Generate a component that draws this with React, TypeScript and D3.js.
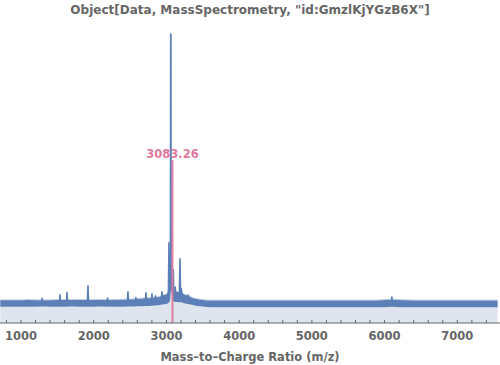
import React from "react";
import * as d3 from "d3";

const title = 'Object[Data, MassSpectrometry, "id:GmzlKjYGzB6X"]';
const xLabel = "Mass–to–Charge Ratio (m/z)";
const xTicks = [1000, 2000, 3000, 4000, 5000, 6000, 7000];
const markerMz = 3083.26;
const markerLabel = "3083.26";

// noise band envelope (m/z, low %, high %)
const bandMz = [715, 900, 1100, 1300, 1500, 1700, 1900, 2100, 2300, 2500, 2600, 2700, 2800, 2900, 2950, 3000, 3030, 3050, 3065, 3080, 3100, 3150, 3200, 3250, 3300, 3350, 3400, 3500, 3600, 4000, 4500, 5000, 5500, 5900, 6000, 6100, 6200, 6300, 6500, 7000, 7555];
const bandLow = [5.6, 5.6, 5.6, 5.7, 5.6, 5.7, 5.6, 5.7, 5.6, 5.7, 5.8, 5.9, 6.0, 6.2, 6.4, 6.6, 7.0, 8.0, 12.0, 9.0, 7.5, 7.3, 7.2, 6.8, 6.6, 6.3, 6.0, 5.7, 5.5, 5.5, 5.5, 5.5, 5.5, 5.5, 5.5, 5.6, 5.5, 5.5, 5.5, 5.5, 5.5];
const bandHigh = [7.9, 7.9, 8.0, 7.9, 8.0, 8.0, 8.0, 8.0, 8.0, 8.2, 8.3, 8.6, 8.7, 9.0, 9.6, 10.0, 11.0, 11.5, 12.5, 12.0, 11.0, 10.8, 10.6, 9.8, 9.4, 8.8, 8.4, 8.0, 7.8, 7.8, 7.8, 7.8, 7.8, 7.8, 8.0, 8.1, 8.0, 7.9, 7.8, 7.8, 7.8];

// peaks (m/z, height %)
const peakMz = [1290, 1536, 1633, 1921, 2190, 2471, 2580, 2719, 2801, 2850, 2939, 3035, 3060, 3094, 3120, 3186, 3205, 3300, 6100];
const peakH = [8.6, 9.8, 10.6, 12.9, 8.7, 10.8, 8.8, 10.5, 10.1, 9.4, 10.8, 27.9, 100.3, 18.5, 12.5, 22.3, 12.0, 9.7, 9.0];

const W = 500;
const H = 365;
const blue = "#5b7fb6";
const fillC = "#dfe5ef";
const pink = "#e0779d";
const gray = "#666666";
const font = "'DejaVu Sans', sans-serif";

export default function App() {
  const x = d3.scaleLinear().domain([1000, 7000]).range([21, 457.3]);
  const y = d3.scaleLinear().domain([0, 100]).range([323, 35]);
  const minor = d3.range(800, 7600, 200);

  const pts = bandMz.map((m, i) => ({ m, lo: bandLow[i], hi: bandHigh[i] }));
  const fillArea = d3
    .area<{ m: number; lo: number; hi: number }>()
    .x((d) => x(d.m))
    .y0(() => y(0))
    .y1((d) => y(d.lo))
    .curve(d3.curveMonotoneX);
  const bandArea = d3
    .area<{ m: number; lo: number; hi: number }>()
    .x((d) => x(d.m))
    .y0((d) => y(d.lo))
    .y1((d) => y(d.hi))
    .curve(d3.curveMonotoneX);
  const grassArea = d3
    .area<{ m: number; lo: number; hi: number }>()
    .x((d) => x(d.m))
    .y0((d) => y(d.hi))
    .y1((d) => y(d.hi + 0.35))
    .curve(d3.curveMonotoneX);

  const hiAt = (m: number) => {
    const i = d3.bisectLeft(bandMz, m);
    const i0 = Math.max(0, i - 1);
    const i1 = Math.min(bandMz.length - 1, i);
    if (i0 === i1) return bandHigh[i0];
    const t = (m - bandMz[i0]) / (bandMz[i1] - bandMz[i0]);
    return bandHigh[i0] + t * (bandHigh[i1] - bandHigh[i0]);
  };

  return (
    <svg width={W} height={H} style={{ display: "block", position: "absolute", left: 0, top: 0 }}>
      <rect width={W} height={H} fill="white" />
      <text x={250} y={14} textAnchor="middle" fontFamily={font} fontWeight="bold" fontSize={12} fill={gray}>
        {title}
      </text>
      <defs>
        <clipPath id="plot">
          <rect x={0} y={20} width={499} height={303} />
        </clipPath>
      </defs>
      <g clipPath="url(#plot)">
        <path d={fillArea(pts) || ""} fill={fillC} />
        <path d={grassArea(pts) || ""} fill={blue} opacity={0.35} />
        <path d={bandArea(pts) || ""} fill={blue} />
        {peakMz.map((m, i) => {
          const base = hiAt(m) - 1;
          const w = peakH[i] > 50 ? 4 : 8;
          const d = `M${x(m - w)},${y(base)}L${x(m)},${y(peakH[i])}L${x(m + w)},${y(base)}`;
          return <path key={i} d={d} fill={blue} stroke={blue} strokeWidth={peakH[i] > 50 ? 1.8 : 1.6} strokeLinejoin="round" />;
        })}
        <line x1={x(markerMz)} x2={x(markerMz)} y1={160} y2={y(0)} stroke={pink} strokeWidth={2} opacity={0.9} />
      </g>
      <text x={x(markerMz)} y={158} textAnchor="middle" fontFamily={font} fontWeight="bold" fontSize={11.5} fill={pink}>
        {markerLabel}
      </text>
      <line x1={0} x2={W} y1={y(0)} y2={y(0)} stroke={gray} strokeWidth={1} />
      {minor.map((t) => (
        <line key={t} x1={x(t)} x2={x(t)} y1={y(0)} y2={y(0) - 3} stroke={gray} strokeWidth={1} />
      ))}
      {xTicks.map((t) => (
        <text key={t} x={x(t)} y={340} textAnchor="middle" fontFamily={font} fontWeight="bold" fontSize={11.5} fill={gray}>
          {t}
        </text>
      ))}
      <text x={250} y={361} textAnchor="middle" fontFamily={font} fontWeight="bold" fontSize={11.5} fill={gray}>
        {xLabel}
      </text>
    </svg>
  );
}
